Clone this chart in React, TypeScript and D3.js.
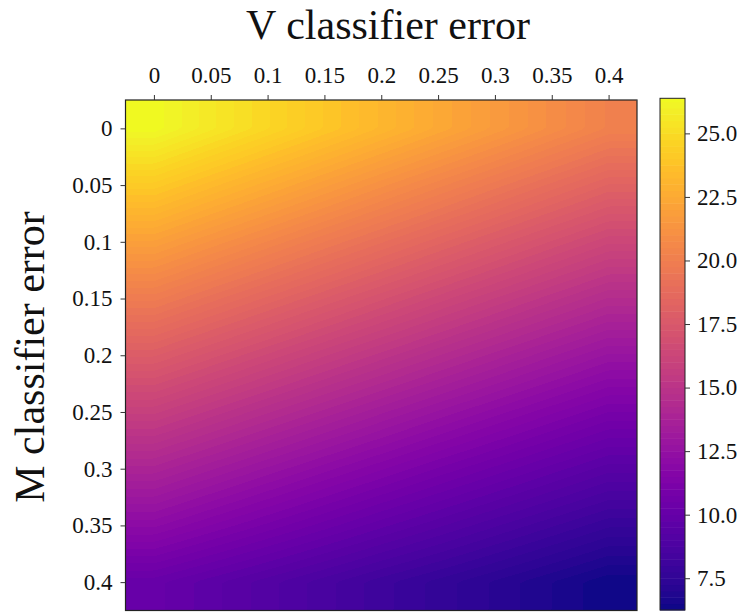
import { useEffect, useRef } from "react";
import * as d3 from "d3";

// V classifier error (columns) and M classifier error (rows)
const vErrors = [0, 0.05, 0.1, 0.15, 0.2, 0.25, 0.3, 0.35, 0.4];
const mErrors = [0, 0.05, 0.1, 0.15, 0.2, 0.25, 0.3, 0.35, 0.4];
const tickLabels = ["0", "0.05", "0.1", "0.15", "0.2", "0.25", "0.3", "0.35", "0.4"];

// value grid, one row per M error, one column per V error
const values = [
  [26.4, 25.58, 24.78, 23.98, 23.2, 22.43, 21.68, 20.93, 20.2],
  [24.15, 23.36, 22.59, 21.83, 21.08, 20.35, 19.63, 18.92, 18.22],
  [21.96, 21.21, 20.48, 19.75, 19.04, 18.34, 17.65, 16.97, 16.31],
  [19.85, 19.13, 18.43, 17.74, 17.06, 16.39, 15.74, 15.1, 14.47],
  [17.8, 17.12, 16.45, 15.79, 15.15, 14.52, 13.9, 13.29, 12.7],
  [15.82, 15.18, 14.54, 13.92, 13.31, 12.71, 12.13, 11.56, 11.0],
  [13.91, 13.3, 12.7, 12.11, 11.54, 10.97, 10.43, 9.89, 9.36],
  [12.07, 11.49, 10.93, 10.38, 9.83, 9.31, 8.79, 8.29, 7.8],
  [10.1, 9.6, 9.1, 8.6, 8.1, 7.65, 7.2, 6.75, 6.3],
];

const cbTicks = [7.5, 10, 12.5, 15, 17.5, 20, 22.5, 25];
const cbLabels = ["7.5", "10.0", "12.5", "15.0", "17.5", "20.0", "22.5", "25.0"];

const FONT = "'Liberation Serif', 'DejaVu Serif', serif";

export default function App() {
  const ref = useRef<SVGSVGElement>(null);

  useEffect(() => {
    const svg = d3.select(ref.current);
    svg.selectAll("*").remove();

    const L = 125.5, R = 637, T = 100, B = 610.5;
    const x = d3.scaleLinear().domain([-0.025, 0.425]).range([L, R]);
    const y = d3.scaleLinear().domain([-0.025, 0.425]).range([T, B]);

    const vMin = 6.25, vMax = 26.38;
    const color = (v: number) => d3.interpolatePlasma((v - vMin) / (vMax - vMin));

    // bilinear lookup in the grid, clamped at the edges
    const step = 0.05;
    function lookup(vx: number, vy: number) {
      const fx = Math.max(0, Math.min(8, vx / step));
      const fy = Math.max(0, Math.min(8, vy / step));
      const i0 = Math.min(7, Math.floor(fx)), j0 = Math.min(7, Math.floor(fy));
      const tx = fx - i0, ty = fy - j0;
      const a = values[j0][i0], b = values[j0][i0 + 1];
      const c = values[j0 + 1][i0], d = values[j0 + 1][i0 + 1];
      return (a * (1 - tx) + b * tx) * (1 - ty) + (c * (1 - tx) + d * tx) * ty;
    }

    // sample a fine grid for the filled contours
    const N = 180;
    const span = 0.45 / N;
    const field = new Array(N * N);
    for (let j = 0; j < N; j++) {
      for (let i = 0; i < N; i++) {
        field[i + j * N] = lookup(-0.025 + (i + 0.5) * span, -0.025 + (j + 0.5) * span);
      }
    }

    const levelStep = 0.25;
    const thresholds = d3.range(6.0, 26.5, levelStep);
    const contours = d3.contours().size([N, N]).thresholds(thresholds)(field);

    svg
      .append("g")
      .attr("transform", `translate(${L},${T}) scale(${(R - L) / N},${(B - T) / N})`)
      .selectAll("path")
      .data(contours)
      .join("path")
      .attr("d", d3.geoPath())
      .attr("fill", d => color(d.value + levelStep / 2))
      .attr("shape-rendering", "crispEdges");

    svg
      .append("rect")
      .attr("x", L)
      .attr("y", T)
      .attr("width", R - L)
      .attr("height", B - T)
      .attr("fill", "none")
      .attr("stroke", "#222")
      .attr("stroke-width", 1.2);

    // --- axes
    const fmt = (d: d3.NumberValue) => tickLabels[vErrors.indexOf(+d)];

    const xAxis = svg
      .append("g")
      .attr("transform", `translate(0,${T})`)
      .call(d3.axisTop(x).tickValues(vErrors).tickFormat(fmt).tickSize(5).tickPadding(12));

    const yAxis = svg
      .append("g")
      .attr("transform", `translate(${L},0)`)
      .call(d3.axisLeft(y).tickValues(mErrors).tickFormat(fmt).tickSize(5).tickPadding(8));

    [xAxis, yAxis].forEach(g => {
      g.select(".domain").remove();
      g.selectAll("line").attr("stroke", "#333");
      g.selectAll("text").attr("font-family", FONT).attr("font-size", 23).attr("fill", "#111");
    });

    // --- colorbar
    const cL = 660, cR = 685, cT = 98.3, cB = 610;
    const cy = d3.scaleLinear().domain([vMin, vMax]).range([cB, cT]);
    const bands = d3.range(vMin, vMax, levelStep);

    svg
      .append("g")
      .selectAll("rect")
      .data(bands)
      .join("rect")
      .attr("x", cL)
      .attr("width", cR - cL)
      .attr("y", d => cy(Math.min(vMax, d + levelStep)))
      .attr("height", d => cy(d) - cy(Math.min(vMax, d + levelStep)) + 0.5)
      .attr("fill", d => color(d + levelStep / 2));

    svg
      .append("rect")
      .attr("x", cL)
      .attr("y", cT)
      .attr("width", cR - cL)
      .attr("height", cB - cT)
      .attr("fill", "none")
      .attr("stroke", "#222")
      .attr("stroke-width", 1);

    const cAxis = svg
      .append("g")
      .attr("transform", `translate(${cR},0)`)
      .call(
        d3.axisRight(cy)
          .tickValues(cbTicks)
          .tickFormat(d => cbLabels[cbTicks.indexOf(+d)])
          .tickSize(5)
          .tickPadding(7)
      );
    cAxis.select(".domain").remove();
    cAxis.selectAll("line").attr("stroke", "#333");
    cAxis.selectAll("text").attr("font-family", FONT).attr("font-size", 23).attr("fill", "#111");

    // --- titles
    svg
      .append("text")
      .attr("x", 388)
      .attr("y", 39)
      .attr("text-anchor", "middle")
      .attr("font-family", FONT)
      .attr("font-size", 42)
      .attr("fill", "#111")
      .text("V classifier error");

    svg
      .append("text")
      .attr("transform", "translate(44,357) rotate(-90)")
      .attr("text-anchor", "middle")
      .attr("font-family", FONT)
      .attr("font-size", 42)
      .attr("fill", "#111")
      .text("M classifier error");
  }, []);

  return (
    <svg
      ref={ref}
      width={745}
      height={612}
      style={{ position: "absolute", left: 0, top: 0, background: "#fff" }}
    />
  );
}
